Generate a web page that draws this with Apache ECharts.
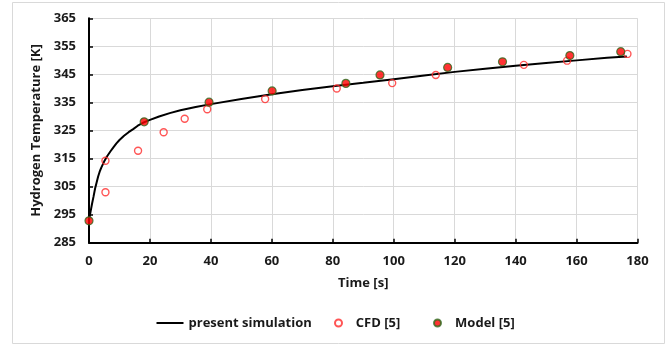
<!DOCTYPE html>
<html>
<head>
<meta charset="utf-8">
<script src="https://cdn.jsdelivr.net/npm/echarts@6/dist/echarts.min.js"></script>
<style>html,body{margin:0;padding:0;background:#fff;}#c{width:667px;height:346px;}</style>
</head>
<body>
<div id="c"></div>
<script>
// ---- data ----
const simTime = [0, 0.5, 1.0, 1.5, 2.0, 2.5, 3.0, 3.5, 4.0, 5.0, 6.0, 7.0, 8.0, 9.0, 10.0, 11.5, 13.0, 14.5, 16.0, 18.0, 20.0, 23.0, 26.5, 30.0, 35.0, 40.0, 50.0, 60.0, 70.0, 80.0, 90.0, 100, 110, 120, 130, 140, 150, 160, 170, 176.5];
const simTemp = [293.0, 296.0, 298.9, 301.5, 304.3, 306.5, 308.6, 310.3, 311.7, 314.0, 315.9, 317.5, 319.0, 320.4, 321.6, 323.1, 324.4, 325.5, 326.7, 327.9, 328.8, 330.0, 331.2, 332.2, 333.4, 334.4, 336.2, 337.9, 339.4, 340.8, 342.0, 343.3, 344.6, 345.9, 347.0, 348.1, 349.1, 350.0, 350.9, 351.4];
const cfdTime = [5.4, 5.4, 16.1, 24.5, 31.4, 38.8, 57.8, 81.3, 99.5, 113.8, 142.7, 156.9, 176.7];
const cfdTemp = [303.0, 314.2, 317.8, 324.4, 329.2, 332.6, 336.2, 340.0, 341.9, 344.8, 348.4, 349.9, 352.3];
const modelTime = [0, 18.1, 39.4, 60.1, 84.3, 95.5, 117.7, 135.7, 157.8, 174.5];
const modelTemp = [292.8, 328.1, 335.1, 339.1, 341.8, 344.8, 347.5, 349.5, 351.7, 353.1];
const seriesNames = ['present simulation', 'CFD [5]', 'Model [5]'];
const xAxisTitle = 'Time [s]';
const yAxisTitle = 'Hydrogen Temperature [K]';

const zip = (a, b) => a.map((v, i) => [v, b[i]]);
const FONT = 'Open Sans';
const txt = {fontFamily: FONT, fontWeight: 'bold', color: '#1a1a1a'};
const FS = 13;

const chart = echarts.init(document.getElementById('c'), null, {renderer: 'canvas'});
chart.setOption({
  backgroundColor: '#fff',
  animation: false,
  graphic: [{
    type: 'rect', shape: {x: 12.5, y: 2.5, width: 652, height: 341},
    style: {fill: 'none', stroke: '#d9d9d9', lineWidth: 1}, z: -1
  }],
  grid: {left: 89, right: 29.5, top: 18.3, bottom: 103.3, containLabel: false},
  xAxis: {
    type: 'value', min: 0, max: 180, interval: 20,
    name: xAxisTitle, nameLocation: 'middle', nameGap: 34,
    nameTextStyle: Object.assign({fontSize: FS}, txt),
    axisLine: {show: true, onZero: false, lineStyle: {color: '#000', width: 2}},
    axisTick: {show: true, inside: true, length: 4, lineStyle: {color: '#000', width: 1.5}},
    axisLabel: Object.assign({fontSize: FS, margin: 12}, txt),
    splitLine: {show: true, lineStyle: {color: '#d9d9d9', width: 1}}
  },
  yAxis: {
    type: 'value', min: 285, max: 365, interval: 10,
    name: yAxisTitle, nameLocation: 'middle', nameGap: 41, nameRotate: 90,
    nameTextStyle: Object.assign({fontSize: FS}, txt),
    axisLine: {show: true, onZero: false, lineStyle: {color: '#000', width: 2}},
    axisTick: {show: true, inside: true, length: 4, lineStyle: {color: '#000', width: 1.5}},
    axisLabel: Object.assign({fontSize: FS, margin: 13}, txt),
    splitLine: {show: true, lineStyle: {color: '#d9d9d9', width: 1}}
  },
  legend: [
    {data: [{name: seriesNames[0], icon: 'rect'}], left: 156.5, top: 316, padding: 0, itemWidth: 27, itemHeight: 2,
     itemStyle: {color: '#000'},
     textStyle: Object.assign({fontSize: FS, height: 14, lineHeight: 14}, txt)},
    {data: [seriesNames[1]], left: 334, top: 316, padding: 0, itemWidth: 24.6, itemHeight: 7,
     textStyle: Object.assign({fontSize: FS, height: 14, lineHeight: 14}, txt)},
    {data: [seriesNames[2]], left: 433, top: 316, padding: 0, itemWidth: 25.2, itemHeight: 7,
     textStyle: Object.assign({fontSize: FS, height: 14, lineHeight: 14}, txt)}
  ],
  series: [
    {
      name: seriesNames[0], type: 'line', data: zip(simTime, simTemp),
      smooth: false, symbol: 'none', z: 2,
      lineStyle: {color: '#000', width: 2}, itemStyle: {color: '#000'}
    },
    {
      name: seriesNames[1], type: 'scatter', data: zip(cfdTime, cfdTemp),
      symbol: 'circle', symbolSize: 7, z: 3,
      itemStyle: {color: 'rgba(255,255,255,0)', borderColor: '#ff2a2a', borderWidth: 1.4}
    },
    {
      name: seriesNames[2], type: 'scatter', data: zip(modelTime, modelTemp),
      symbol: 'circle', symbolSize: 8, z: 4,
      itemStyle: {color: '#ff0000', borderColor: '#2f6b1f', borderWidth: 1.2}
    }
  ]
});
</script>
</body>
</html>
